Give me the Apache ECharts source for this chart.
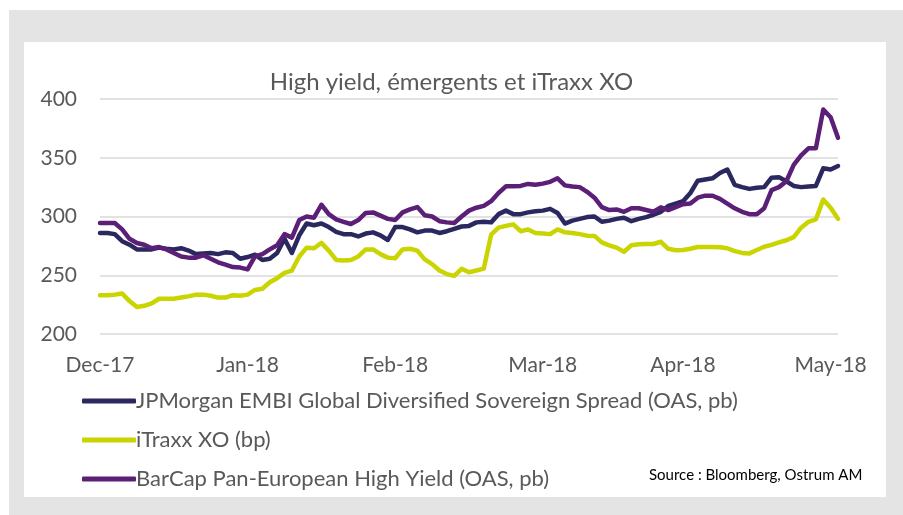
<!DOCTYPE html>
<html>
<head>
<meta charset="utf-8">
<title>High yield, émergents et iTraxx XO</title>
<script src="https://cdn.jsdelivr.net/npm/echarts@6/dist/echarts.min.js"></script>
<style>
  html, body { margin: 0; padding: 0; background: #fff; }
  #chart { width: 903px; height: 515px; }
</style>
</head>
<body>
<div id="chart"></div>
<script>
// x ticks: month labels sit on these point indices
var monthLabels = ['Dec-17', 'Jan-18', 'Feb-18', 'Mar-18', 'Apr-18', 'May-18'];
var monthIdx = [0, 20, 40, 60, 79, 99];

var embi = [
  286, 286, 285, 279, 276, 272, 272, 272, 273.5, 272.5,
  272, 273, 271, 268, 268.5, 269, 268, 269.5, 269, 264,
  265.5, 267.5, 263, 264, 269, 281, 269, 284, 294, 292.5,
  294, 291, 287, 285, 285, 283, 285.5, 286.5, 284, 280,
  291, 291, 289, 286.5, 288, 288, 286, 287.5, 289.5, 291.5,
  292, 295, 295.5, 295, 302, 305, 302, 302, 303.5, 304.5,
  305, 306.5, 303, 294, 296.5, 298, 299.5, 300, 295.5, 296.5,
  298, 299, 296, 298, 299.5, 301.5, 304, 309, 311, 313,
  320, 330.5, 331.5, 332.5, 337, 340, 327, 325, 323.5, 324.5,
  325, 333, 333.5, 330, 326, 325, 325.5, 326, 341, 340,
  343
];

var itraxx = [
  233, 233, 233.5, 234.5, 228, 223, 224, 226, 230, 230,
  230, 231, 232, 233.5, 233.5, 232.5, 231, 231, 233, 232.5,
  233.5, 237.5, 238.5, 244, 247.5, 252, 254, 266, 273.5, 273,
  277.5, 271, 263, 262.5, 263, 266, 272, 272, 268, 265,
  264.5, 272, 272.5, 271, 263.5, 259.5, 254, 251, 249.5, 255.5,
  252.5, 254, 255.6, 284.5, 290.5, 292, 293.3, 287.5, 289, 286,
  285.5, 285, 289, 286.5, 286, 285, 283.7, 283.5, 278, 275.5,
  273.5, 270, 275.5, 276.3, 276.6, 276.6, 278.5, 272.5, 271.3, 271.5,
  272.5, 274, 274, 274, 273.8, 273, 270.5, 269, 268.6, 271.5,
  274.3, 275.8, 278, 279.8, 282.5, 290.5, 295.5, 297.5, 314.5, 307.5,
  298
];

var barcap = [
  294.5, 294.5, 294.5, 289, 281, 277.5, 276, 273, 274, 272,
  269, 266, 265, 265, 267, 264, 261, 259, 257, 256.5,
  255, 266, 268, 272, 275.5, 285, 282, 297, 300, 299,
  310, 302, 297.5, 295.5, 293.6, 297, 303, 303.5, 300.7, 298,
  297, 303.5, 306, 308, 301, 300, 296, 295, 294.5, 300,
  305, 307.5, 309, 313, 320, 325.7, 325.7, 326, 327.7, 327,
  328, 329.5, 332.5, 326.5, 325.5, 325, 321, 316, 308, 305.5,
  306, 304, 307, 307, 305.5, 304, 307.8, 305.5, 308, 310.5,
  311, 316, 317.7, 317.7, 315, 311, 307, 304, 302, 302,
  307, 322.5, 325, 330, 344, 352, 358, 358, 391, 384.5,
  367
];

var points = embi.map(function (v, i) { return 'p' + i; });

var font = 'Lato';
var textGrey = '#595959';

var chart = echarts.init(document.getElementById('chart'));

var option = {
  animation: false,
  textStyle: { fontFamily: font },
  graphic: [
    { type: 'rect', z: -10, silent: true, shape: { x: 9, y: 10, width: 894, height: 505 }, style: { fill: '#e4e4e4' } },
    { type: 'rect', z: -9, silent: true, shape: { x: 24, y: 42, width: 862, height: 455 }, style: { fill: '#ffffff' } },
    {
      type: 'text', left: 649, top: 468, silent: true,
      style: { text: 'Source : Bloomberg, Ostrum AM', fill: '#000', font: '15px ' + font }
    }
  ],
  title: {
    text: 'High yield, émergents et iTraxx XO',
    left: 'center',
    top: 65,
    textStyle: { fontFamily: font, fontSize: 24, fontWeight: 'normal', color: textGrey }
  },
  color: ['#2a285f', '#c9d400', '#5c1f78'],
  legend: {
    orient: 'vertical',
    left: 77,
    top: 385,
    itemWidth: 54,
    itemHeight: 5,
    itemGap: 17,
    icon: 'roundRect',
    textStyle: { fontFamily: font, fontSize: 22, color: textGrey, padding: [0, 0, 0, -5] },
    data: [
      'JPMorgan EMBI Global Diversified Sovereign Spread (OAS, pb)',
      'iTraxx XO (bp)',
      'BarCap Pan-European High Yield (OAS, pb)'
    ]
  },
  grid: { left: 100, right: 65, top: 99, bottom: 181 },
  xAxis: {
    type: 'category',
    boundaryGap: false,
    data: points,
    axisLine: { show: false },
    axisTick: { show: false },
    axisLabel: {
      interval: function (i) { return monthIdx.indexOf(i) >= 0; },
      formatter: function (v, i) { return monthLabels[monthIdx.indexOf(i)]; },
      margin: 21,
      fontSize: 21,
      color: textGrey,
      fontFamily: font
    }
  },
  yAxis: {
    type: 'value',
    min: 200,
    max: 400,
    interval: 50,
    axisLine: { show: false },
    axisTick: { show: false },
    axisLabel: { margin: 23, fontSize: 21, color: textGrey, fontFamily: font },
    splitLine: { lineStyle: { color: '#d9d9d9', width: 1.5 } }
  },
  series: [
    {
      name: 'JPMorgan EMBI Global Diversified Sovereign Spread (OAS, pb)',
      type: 'line', data: embi, symbol: 'none',
      lineStyle: { width: 4.5, join: 'round', cap: 'round' }
    },
    {
      name: 'iTraxx XO (bp)',
      type: 'line', data: itraxx, symbol: 'none',
      lineStyle: { width: 4.5, join: 'round', cap: 'round' }
    },
    {
      name: 'BarCap Pan-European High Yield (OAS, pb)',
      type: 'line', data: barcap, symbol: 'none',
      lineStyle: { width: 4.5, join: 'round', cap: 'round' }
    }
  ]
};

chart.setOption(option);
</script>
</body>
</html>
